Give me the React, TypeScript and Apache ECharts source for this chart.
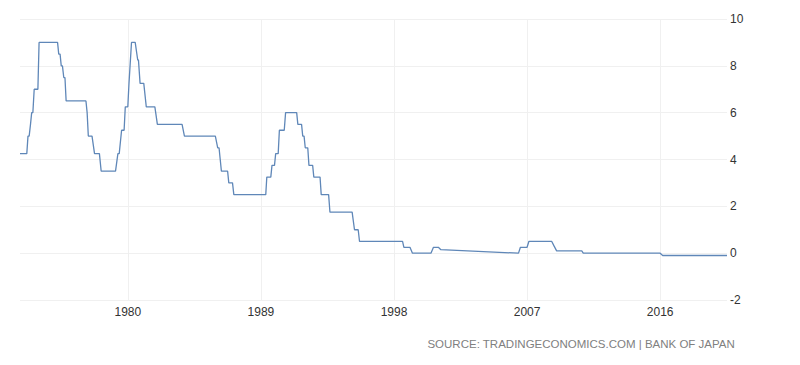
import React, { useEffect, useRef } from "react";
import * as echarts from "echarts";

// Decimal-year dates and Bank of Japan policy rate (%)
const rateYears = [
  1972.71, 1973.17, 1973.25, 1973.33, 1973.42, 1973.5, 1973.58, 1973.67, 1973.92, 1974.0,
  1975.25, 1975.33, 1975.42, 1975.5, 1975.58, 1975.67, 1975.75, 1975.83,
  1977.17, 1977.25, 1977.33, 1977.58, 1977.75, 1978.08, 1978.2,
  1979.17, 1979.33, 1979.42, 1979.58, 1979.75, 1979.83, 1980.0, 1980.08, 1980.25,
  1980.5, 1980.67, 1980.72, 1980.83, 1981.08, 1981.25, 1981.83, 1982.0,
  1983.67, 1983.83, 1985.92, 1986.08, 1986.17, 1986.25, 1986.33, 1986.75, 1986.83,
  1987.08, 1987.17, 1989.33, 1989.4, 1989.67, 1989.75, 1989.92, 1990.0, 1990.17,
  1990.25, 1990.58, 1990.67, 1991.42, 1991.5, 1991.75, 1991.83, 1991.92, 1992.0,
  1992.17, 1992.25, 1992.5, 1992.58, 1993.0, 1993.08, 1993.58, 1993.67,
  1995.17, 1995.33, 1995.58, 1995.67, 1998.58, 1998.67, 1999.08, 1999.25,
  2000.5, 2000.67, 2001.0, 2001.17, 2006.42, 2006.55, 2007.0, 2007.12,
  2008.67, 2008.83, 2009.0, 2010.7, 2010.8, 2016.0, 2016.17, 2020.52,
];
const rateValues = [
  4.25, 4.25, 5.0, 5.0, 5.5, 6.0, 6.0, 7.0, 7.0, 9.0,
  9.0, 8.5, 8.5, 8.0, 8.0, 7.5, 7.5, 6.5,
  6.5, 6.0, 5.0, 5.0, 4.25, 4.25, 3.5,
  3.5, 4.25, 4.25, 5.25, 5.25, 6.25, 6.25, 7.25, 9.0,
  9.0, 8.25, 8.25, 7.25, 7.25, 6.25, 6.25, 5.5,
  5.5, 5.0, 5.0, 4.5, 4.5, 4.0, 3.5, 3.5, 3.0,
  3.0, 2.5, 2.5, 3.25, 3.25, 3.75, 3.75, 4.25, 4.25,
  5.25, 5.25, 6.0, 6.0, 5.5, 5.5, 5.0, 5.0, 4.5,
  4.5, 3.75, 3.75, 3.25, 3.25, 2.5, 2.5, 1.75,
  1.75, 1.0, 1.0, 0.5, 0.5, 0.25, 0.25, 0.0,
  0.0, 0.25, 0.25, 0.15, 0.0, 0.25, 0.25, 0.5,
  0.5, 0.3, 0.1, 0.1, 0.0, 0.0, -0.1, -0.1,
];
const xTickYears = [1980, 1989, 1998, 2007, 2016];
const sourceText = "SOURCE: TRADINGECONOMICS.COM | BANK OF JAPAN";

export default function App() {
  const ref = useRef<HTMLDivElement>(null);
  useEffect(() => {
    if (!ref.current) return;
    const chart = echarts.init(ref.current, null, { renderer: "svg" });
    const data = rateYears.map((y, i) => [y, rateValues[i]]);
    chart.setOption({
      animation: false,
      backgroundColor: "#ffffff",
      grid: { left: 20, right: 73, top: 19, bottom: 65, containLabel: false },
      xAxis: {
        type: "value",
        min: 1972.71,
        max: 2020.52,
        axisLine: { show: false },
        axisTick: {
          show: true,
          length: 4,
          customValues: xTickYears,
          lineStyle: { color: "#eeeeee" },
        },
        axisLabel: {
          customValues: xTickYears,
          color: "#333333",
          fontSize: 12,
          fontFamily: "Liberation Sans, Arial, sans-serif",
          margin: 6,
          formatter: (v: number) => String(Math.round(v)),
        },
        splitLine: { show: true, lineStyle: { color: "#f0f0f0", width: 1 } },
      },
      yAxis: {
        type: "value",
        position: "right",
        min: -2,
        max: 10,
        interval: 2,
        axisLine: { show: false },
        axisTick: { show: false },
        axisLabel: {
          color: "#333333",
          fontSize: 12,
          fontFamily: "Liberation Sans, Arial, sans-serif",
          margin: 3,
        },
        splitLine: { show: true, lineStyle: { color: "#f0f0f0", width: 1 } },
      },
      graphic: [
        {
          type: "text",
          right: 65,
          top: 338,
          style: {
            text: sourceText,
            fill: "#808080",
            fontSize: 11.5,
            fontFamily: "Liberation Sans, Arial, sans-serif",
          },
        },
      ],
      series: [
        {
          type: "line",
          data,
          showSymbol: false,
          symbol: "none",
          lineStyle: { color: "#5f87b8", width: 1.3 },
        },
      ],
    });
    return () => chart.dispose();
  }, []);
  return (
    <div
      ref={ref}
      style={{ position: "absolute", left: 0, top: 0, width: 800, height: 365 }}
    />
  );
}
